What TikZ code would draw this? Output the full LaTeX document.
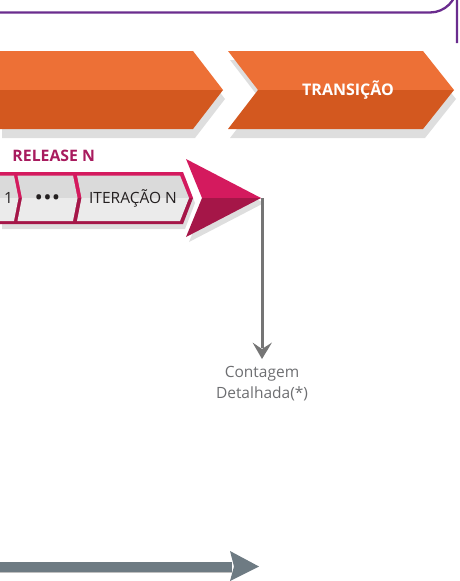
\documentclass[tikz,border=0pt]{standalone}
\usepackage{fontspec}
\setmainfont{Open Sans}
\definecolor{orgA}{HTML}{ED7036}
\definecolor{orgB}{HTML}{D3581F}
\definecolor{magA}{HTML}{D41A5E}
\definecolor{magB}{HTML}{A51648}
\definecolor{magT}{HTML}{A81B5E}
\definecolor{shd}{HTML}{DEDEDE}
\definecolor{grA}{HTML}{DADADA}
\definecolor{grB}{HTML}{EBEBEB}
\definecolor{purp}{HTML}{6A2C8E}
\definecolor{lineg}{HTML}{757575}
\definecolor{txtg}{HTML}{6D6E71}
\definecolor{bluegray}{HTML}{6E7B83}
\definecolor{dark}{HTML}{231F20}
\tikzset{
  lbl/.style={inner sep=0pt, outer sep=0pt},
  phasetext/.style={lbl, text=white, font=\fontsize{16}{18}\selectfont\bfseries},
  reltext/.style={lbl, text=magT, font=\fontsize{15.8}{17}\selectfont\bfseries},
  itertext/.style={lbl, text=dark, font=\fontsize{15.5}{17}\selectfont},
  dotstext/.style={lbl, text=dark, font=\fontsize{17}{17}\selectfont\bfseries},
  notetext/.style={lbl, text=txtg, align=center, font=\fontsize{15.5}{21}\selectfont},
}
\begin{document}
\begin{tikzpicture}[x=1pt,y=-1pt]
\useasboundingbox (0,0) rectangle (459,581);
% purple bracket
\draw[purp, line width=2.3pt] (0,12.5) -- (430,12.5) arc[start angle=90, end angle=0, radius=27] -- (457,43);
% chevron shadows
\fill[shd] (2,60) -- (195,60) -- (225,99) -- (195,138) -- (2,138) -- cycle;
\fill[shd] (230,60) -- (425,60) -- (456,99) -- (425,138) -- (230,138) -- (260,99) -- cycle;
% chevron 1
\fill[orgA] (0,51) -- (193,51) -- (223,90) -- (0,90) -- cycle;
\fill[orgB] (0,90) -- (223,90) -- (193,129) -- (0,129) -- cycle;
% chevron 2
\fill[orgA] (228,51) -- (423,51) -- (454,90) -- (258,90) -- cycle;
\fill[orgB] (258,90) -- (454,90) -- (423,129) -- (228,129) -- cycle;
\node[phasetext] (trans) at (348,90) {TRANSIÇÃO};
% release label
\node[reltext, anchor=west] (rel) at (12.5,155.5) {RELEASE N};
% release bar shadow
\fill[shd] (2,177) -- (185,177) -- (195,203) -- (185,229) -- (2,229) -- cycle;
\fill[shd] (189,164) -- (264,203) -- (189,242) -- (205,203) -- cycle;
% release bar frame
\fill[magA] (0,172) -- (183,172) -- (193,198) -- (0,198) -- cycle;
\fill[magB] (0,198) -- (193,198) -- (183,224) -- (0,224) -- cycle;
% segments
\fill[grA] (0,175.5) -- (14,175.5) -- (18.5,198) -- (0,198) -- cycle;
\fill[grB] (0,198) -- (18.5,198) -- (14,221) -- (0,221) -- cycle;
\fill[grA] (17.5,175.5) -- (73,175.5) -- (77.5,198) -- (22,198) -- cycle;
\fill[grB] (22,198) -- (77.5,198) -- (73,221) -- (17.5,221) -- cycle;
\fill[grA] (77,175.5) -- (180,175.5) -- (189,198) -- (81.5,198) -- cycle;
\fill[grB] (81.5,198) -- (189,198) -- (180,221) -- (77,221) -- cycle;
\node[itertext] (s1) at (8.5,198) {1};
\node[dotstext] (s2) at (47.5,199) {•\kern2.2pt•\kern2.2pt•};
\node[itertext] (s3) at (133,198) {ITERAÇÃO N};
% big arrowhead
\fill[magA] (186,159) -- (261,198) -- (202,198) -- cycle;
\fill[magB] (202,198) -- (261,198) -- (186,237) -- cycle;
\coordinate (tip) at (262,198);
% Contagem
\node[notetext, anchor=north] (note) at (262,366) {Contagem\\Detalhada(*)};
\coordinate (ahead) at (262,359);
\draw[lineg, line width=3pt] (tip) -- (262,348);
\fill[lineg] (252.5,342.5) -- (ahead) -- (272,342.5) -- (262,349) -- cycle;
% bottom arrow
\coordinate (bstart) at (0,567);
\coordinate (btip) at (259,566.5);
\fill[bluegray] (bstart) ++(0,-5.5) rectangle (232,572);
\draw[black!25, line width=0.8pt] (0,572.3) -- (232,572.3);
\fill[bluegray] (230,551) -- (btip) -- (230,581) -- (234,566.5) -- cycle;
\end{tikzpicture}
\end{document}
